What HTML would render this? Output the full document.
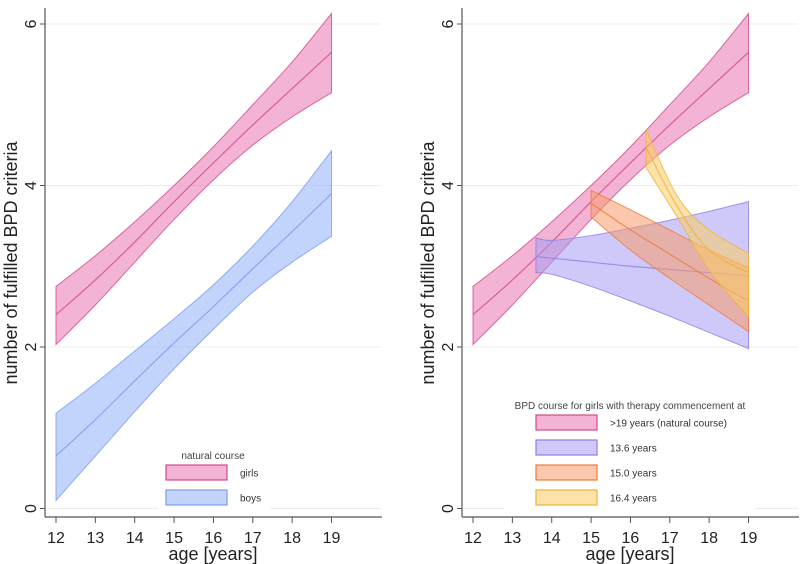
<!DOCTYPE html>
<html><head><meta charset="utf-8"><style>
html,body{margin:0;padding:0;background:#fff;}
svg{display:block;font-family:"Liberation Sans",sans-serif;}
</style></head><body>
<svg id="chart" width="800" height="564" viewBox="0 0 800 564"></svg>
<script>
const xTicks=[12,13,14,15,16,17,18,19];
const yTicks=[0,2,4,6];
const girlsYears=[12,13,14,15,16,17,18,19];
const girlsMean=[2.4,2.83,3.3,3.8,4.28,4.75,5.2,5.65];
const girlsHi=[2.75,3.13,3.55,4.0,4.48,5.0,5.53,6.13];
const girlsLo=[2.03,2.52,3.05,3.58,4.07,4.5,4.85,5.15];
const boysYears=[12,13,14,15,16,17,18,19];
const boysMean=[0.65,1.1,1.58,2.05,2.5,2.97,3.43,3.9];
const boysHi=[1.18,1.55,1.95,2.35,2.77,3.25,3.8,4.43];
const boysLo=[0.1,0.65,1.2,1.73,2.22,2.68,3.05,3.37];
const t136Years=[13.6,14,15,16,17,18,19];
const t136Mean=[3.12,3.1,3.05,3.0,2.96,2.92,2.88];
const t136Hi=[3.35,3.32,3.38,3.47,3.57,3.68,3.8];
const t136Lo=[2.92,2.9,2.75,2.57,2.38,2.18,1.98];
const t150Years=[15,16,17,18,19];
const t150Mean=[3.78,3.45,3.15,2.85,2.57];
const t150Hi=[3.94,3.7,3.45,3.2,2.98];
const t150Lo=[3.61,3.2,2.85,2.52,2.19];
const t164Years=[16.4,17.2,18,19];
const t164Mean=[4.47,3.73,3.2,2.92];
const t164Hi=[4.69,3.86,3.45,3.16];
const t164Lo=[4.22,3.6,2.95,2.37];

const NS='http://www.w3.org/2000/svg';
const svg=document.getElementById('chart');
function mk(tag,attrs,parent,text){const e=document.createElementNS(NS,tag);for(const k in attrs)e.setAttribute(k,attrs[k]);if(text!==undefined)e.textContent=text;(parent||svg).appendChild(e);return e;}
const yS=v=>508.5-v*80.75;
const COL={pink:['#e874b0','#d24a86'],blue:['#8fb0f7','#7a9bef'],purple:['#a59cf3','#8a7fe6'],orange:['#f79a6a','#ee7a3c'],yellow:['#fbcc63','#efb23a']};

function smooth(pts,move){
  let d=move?('M'+pts[0][0]+','+pts[0][1]):('L'+pts[0][0]+','+pts[0][1]);
  for(let i=0;i<pts.length-1;i++){
    const p0=pts[i-1]||pts[i],p1=pts[i],p2=pts[i+1],p3=pts[i+2]||p2;
    const c1=[p1[0]+(p2[0]-p0[0])/6,p1[1]+(p2[1]-p0[1])/6];
    const c2=[p2[0]-(p3[0]-p1[0])/6,p2[1]-(p3[1]-p1[1])/6];
    d+=` C${c1[0]},${c1[1]} ${c2[0]},${c2[1]} ${p2[0]},${p2[1]}`;
  }
  return d;
}
function panel(name,off){
  const xS=v=>off+56+(v-12)*39.36;
  const g=mk('g',{},svg);
  
  
  yTicks.forEach(t=>{
    const gl=mk('line',{x1:off+46,x2:off+381,y1:yS(t),y2:yS(t),stroke:'#ececec','stroke-width':1},g);
    
    
    const tk=mk('line',{x1:off+40,x2:off+45,y1:yS(t),y2:yS(t),stroke:'#555'},g);
    
    
    const lb=mk('text',{x:off+36,y:yS(t),'font-size':16,fill:'#222','text-anchor':'middle',transform:`rotate(-90 ${off+36} ${yS(t)})`},g,String(t));
    
    
  });
  const ya=mk('line',{x1:off+45,x2:off+45,y1:8,y2:517,stroke:'#555','stroke-width':1.2},g);
  
  
  const xa=mk('line',{x1:off+45,x2:off+382,y1:517,y2:517,stroke:'#555','stroke-width':1.2},g);
  
  
  xTicks.forEach(t=>{
    const tk=mk('line',{x1:xS(t),x2:xS(t),y1:517,y2:523,stroke:'#555'},g);
    
    
    const lb=mk('text',{x:xS(t),y:543,'font-size':16,fill:'#222','text-anchor':'middle'},g,String(t));
    
    
  });
  const xt=mk('text',{x:off+213,y:560,'font-size':18,fill:'#222','text-anchor':'middle'},g,'age [years]');
  
  
  const yt=mk('text',{x:off+17,y:263,'font-size':18,fill:'#222','text-anchor':'middle',transform:`rotate(-90 ${off+17} 263)`},g,'number of fulfilled BPD criteria');
  
  
  return {g,xS};
}
function band(p,nm,col,yrs,mean,hi,lo){
  const up=yrs.map((y,i)=>[p.xS(y),yS(hi[i])]);
  const dn=yrs.map((y,i)=>[p.xS(y),yS(lo[i])]).reverse();
  const d=smooth(up,true)+' '+smooth(dn,false)+' Z';
  const poly=mk('path',{d:d,fill:col[0],'fill-opacity':0.55,stroke:col[1],'stroke-width':1,'stroke-opacity':0.8},p.g);
  
  
  const ln=mk('path',{d:smooth(yrs.map((y,i)=>[p.xS(y),yS(mean[i])]),true),fill:'none',stroke:col[1],'stroke-width':1.2,'stroke-opacity':0.8},p.g);
  
  
}
function legendBox(p,nm,col,x,y,label,fs){
  const r=mk('rect',{x:x,y:y,width:61,height:15,fill:col[0],'fill-opacity':0.55,stroke:col[1],'stroke-width':1.2},p.g);
  
  
  const t=mk('text',{x:x+74,y:y+11.5,'font-size':fs,fill:'#333'},p.g,label);
  
  
}
const L=panel('left-panel',0);
band(L,'girls',COL.pink,girlsYears,girlsMean,girlsHi,girlsLo);
band(L,'boys',COL.blue,boysYears,boysMean,boysHi,boysLo);
const lbg=mk('rect',{x:158,y:444,width:112,height:68,fill:'#fff'},L.g);


const lt=mk('text',{x:213,y:459,'font-size':10,fill:'#444','text-anchor':'middle'},L.g,'natural course');


legendBox(L,'girls',COL.pink,166,465,'girls',10);
legendBox(L,'boys',COL.blue,166,490,'boys',10);

const R=panel('right-panel',417);
band(R,'girls-natural',COL.pink,girlsYears,girlsMean,girlsHi,girlsLo);
band(R,'therapy-13-6',COL.purple,t136Years,t136Mean,t136Hi,t136Lo);
band(R,'therapy-15-0',COL.orange,t150Years,t150Mean,t150Hi,t150Lo);
band(R,'therapy-16-4',COL.yellow,t164Years,t164Mean,t164Hi,t164Lo);
const rbg=mk('rect',{x:505,y:396,width:250,height:116,fill:'#fff'},R.g);


const rt=mk('text',{x:630,y:409,'font-size':10,fill:'#444','text-anchor':'middle'},R.g,'BPD course for girls with therapy commencement at');


legendBox(R,'natural',COL.pink,536,415,'>19 years (natural course)',10);
legendBox(R,'therapy-13-6',COL.purple,536,440,'13.6 years',10);
legendBox(R,'therapy-15-0',COL.orange,536,465,'15.0 years',10);
legendBox(R,'therapy-16-4',COL.yellow,536,490,'16.4 years',10);
</script>
</body></html>
